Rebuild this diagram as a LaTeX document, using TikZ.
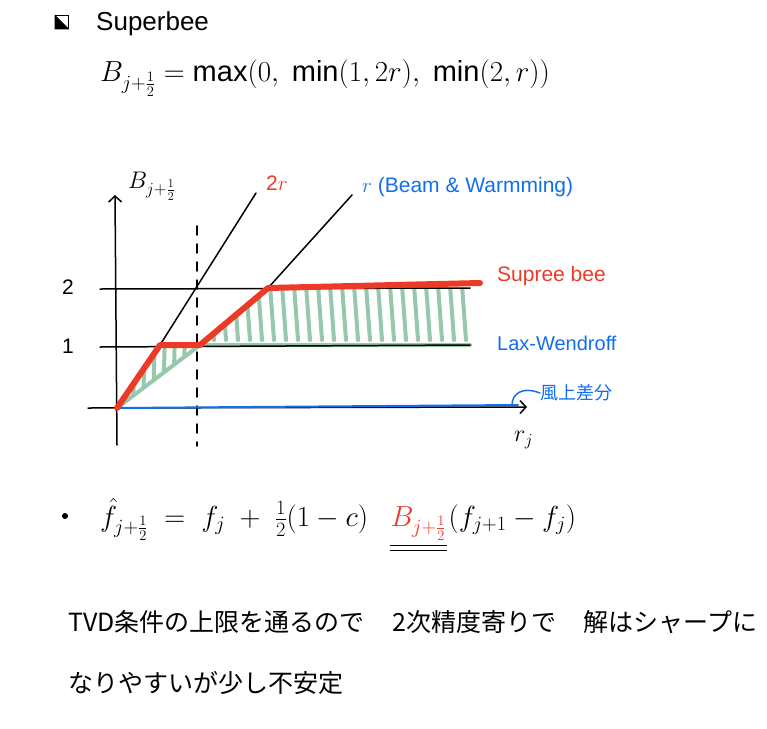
\RequirePackage{fix-cm}
\documentclass[tikz,border=0pt]{standalone}
\usepackage{fontspec}
\setmainfont{Liberation Sans}
\newfontfamily\jpfont{Noto Sans CJK JP}
\usetikzlibrary{arrows.meta,positioning}
\definecolor{hatchgreen}{RGB}{150,200,172}
\definecolor{beered}{RGB}{236,58,38}
\definecolor{penblue}{RGB}{18,110,240}
\tikzset{
  pen/.style={line width=1.5pt, line cap=round, line join=round},
  hatch/.style={hatchgreen, line width=4pt, line cap=round},
  txt/.style={inner sep=0pt, anchor=west},
  big/.style={font=\fontsize{26}{30}\selectfont},
  huge/.style={font=\fontsize{29}{34}\selectfont},
  mid/.style={font=\fontsize{21}{24}\selectfont},
  barb/.style={-{Straight Barb[length=6pt,width=13pt,line width=1.5pt]}},
}
\begin{document}
\begin{tikzpicture}[x=1pt,y=-1pt]
    \useasboundingbox (0,0) rectangle (767,728);
    % heading
    \node[draw, line width=1.6pt, minimum size=13pt, inner sep=0pt] (box) at (62,22) {};
    \fill (box.north west) -- (box.south east) -- (box.south west) -- cycle;
    \node[txt, big] (title) at (96,24) {Superbee};
    \node[txt, huge] (limiter) at (100,78) {$B_{j+\frac12}=\max\bigl(0,\ \min(1,2r),\ \min(2,r)\bigr)$};

    % points of the graph
    \coordinate (O) at (117,408);
    \coordinate (yTop) at (115,195);
    \coordinate (yBot) at (117,445);
    \coordinate (xL) at (88,408);
    \coordinate (xR) at (527,407);
    \coordinate (kinkA) at (160,345);
    \coordinate (kinkB) at (200,345);
    \coordinate (kinkC) at (268,288);
    \coordinate (redEnd) at (480,283);

    % green hatching (between Lax-Wendroff and Superbee)
    \begin{scope}
        \clip (O) -- (kinkA) -- (kinkB) -- cycle;
        \foreach \x in {125,135,...,195}
            \draw[hatch] (\x,330) -- (\x-2,410);
    \end{scope}
    \begin{scope}
        \clip (kinkB) -- (kinkC) -- (472,288) -- (472,346) -- cycle;
        \foreach \x in {210,222,...,470}
            \draw[hatch] (\x,285) -- (\x+4,340);
    \end{scope}
    \draw[hatch] (O) -- (kinkB) -- (470,345);
    \draw[hatch] (kinkB) -- (kinkC);

    % axes and guide lines
    \draw[pen, barb] (yBot) -- (yTop);
    \draw[pen, barb] (xL) -- (xR);
    \draw[pen] (100,289) -- (470,288);
    \draw[pen] (100,347) -- (470,345);
    \draw[pen, dash pattern=on 9pt off 9pt] (197,226) -- (197,446);
    \draw[pen] (kinkA) -- (256,193);
    \draw[pen] (kinkC) -- (352,195);

    % limiters
    \draw[penblue, line width=2pt, line cap=round] (O) -- (518,405);
    \draw[beered, line width=6pt, line cap=round, line join=round]
        (O) -- (kinkA) -- (kinkB) -- (kinkC) -- (redEnd);

    % labels
    \node[txt, font=\fontsize{24}{26}\selectfont] (yLabel) at (128,186) {$B_{j+\frac12}$};
    \node[txt, font=\fontsize{24}{26}\selectfont] (xLabel) at (514,440) {$r_j$};
    \node[txt, mid] (tickTwo) at (62,287) {2};
    \node[txt, mid] (tickOne) at (62,346) {1};
    \node[txt, mid, beered] (twoR) at (266,183) {2$r$};
    \node[txt, mid, penblue] (beam) at (362,187) {$r$ (Beam \& Warmming)};
    \node[txt, mid, beered] (superbee) at (497,276) {Supree bee};
    \node[txt, font=\fontsize{20}{22}\selectfont, penblue] (laxw) at (497,343) {Lax-Wendroff};
    \node[txt, font=\jpfont\fontsize{18}{20}\selectfont, penblue] (upwind) at (540,393) {風上差分};
    \draw[penblue, pen] (upwind.west) .. controls (522,386) and (512,394) .. (512,405);

    % numerical flux
    \fill (65,516) circle (3pt);
    \node[anchor=base west, inner sep=0pt, huge] (flux) at (100,526) {$\hat f_{j+\frac12} \;=\; f_j \;+\; \frac12(1-c)$};
    \node[base right=22pt of flux, inner sep=0pt, huge, beered] (Bred) {$B_{j+\frac12}$};
    \node[base right=2pt of Bred, inner sep=0pt, huge] (diff) {$(f_{j+1}-f_j)$};
    \draw[pen] ([yshift=-5pt]Bred.south west) -- ([yshift=-5pt]Bred.south east);
    \draw[pen] ([yshift=-10pt]Bred.south west) -- ([yshift=-10pt]Bred.south east);

    % comment
    \node[txt, font=\jpfont\fontsize{25}{28}\selectfont] (noteA) at (68,622)
        {TVD条件の上限を通るので\hspace{1.1em}2次精度寄りで\hspace{1.1em}解はシャープに};
    \node[txt, font=\jpfont\fontsize{25}{28}\selectfont] (noteB) at (68,683) {なりやすいが少し不安定};
\end{tikzpicture}
\end{document}
